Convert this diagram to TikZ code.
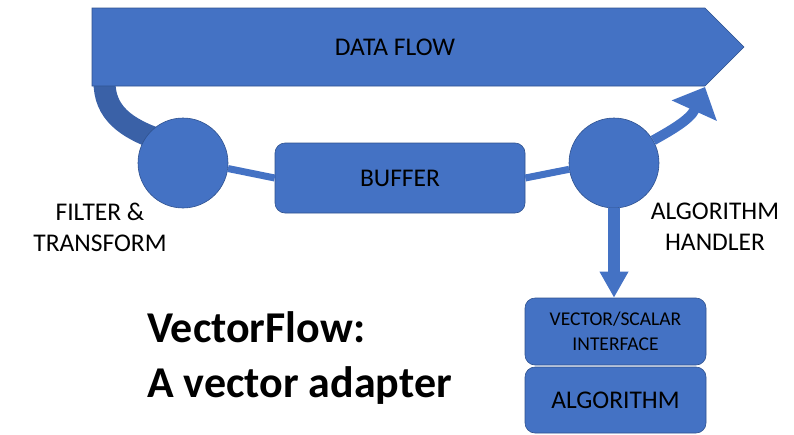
\documentclass[tikz,border=0pt]{standalone}
\usepackage{fontspec}
\setmainfont{Carlito}
\usepackage{tikz}
\usetikzlibrary{arrows.meta}
\definecolor{fill}{HTML}{4472C4}
\definecolor{edge}{HTML}{2F528F}
\colorlet{band}{fill!85!black}
\tikzset{blob/.style={circle,fill=fill,draw=edge,line width=0.6pt,minimum size=90pt,inner sep=0pt}}
\tikzset{box/.style={rectangle,rounded corners=10pt,fill=fill,draw=edge,line width=0.6pt,align=center,
    font=\fontsize{25.5pt}{31pt}\selectfont}}
\tikzset{lbl/.style={align=center,inner sep=0pt,font=\fontsize{25.5pt}{31pt}\selectfont}}
\tikzset{link/.style={draw=fill,line width=6pt}}

\begin{document}
\begin{tikzpicture}[x=1pt,y=-1pt]
                \useasboundingbox (0,0) rectangle (794,434);

                % curved band from the flow down into the filter
                \coordinate (S) at (104.5,82);
                \draw[draw=band,line width=22pt] (S) .. controls (104.5,112) and (125,128) .. (160,140);

                % data flow
                \fill[fill=fill,draw=edge,line width=0.6pt] (92,8) -- (705,8) -- (744,47) -- (705,86) -- (92,86) -- cycle;
                \node[lbl] (D) at (395,47) {DATA FLOW};

                \node[blob] (F) at (183,163) {};
                \node[blob] (H) at (614,163) {};
                \node[box,minimum width=250pt,minimum height=70pt] (B) at (400,178) {BUFFER};
                \node[box,minimum width=181pt,minimum height=67pt,
                    font=\fontsize{19.5pt}{25pt}\selectfont] (I) at (615.5,331.5) {VECTOR/SCALAR\\INTERFACE};
                \node[box,minimum width=181pt,minimum height=66pt] (G) at (615.5,400) {ALGORITHM};

                \coordinate (T) at (705,87);
                \draw[link,line width=7pt] (F.-7) -- (B.west);
                \draw[link,line width=7pt] (B.east) -- (H.188);
                \draw[link,line width=10pt,-{Triangle[length=26pt,width=48pt]}] (H.30) .. controls (668,132) and (690,120) .. (T);
                \draw[link,line width=12pt,-{Triangle[length=26pt,width=27pt]}] (H.south) -- (H.south |- I.north);

                \node[lbl] (FL) at (100,227) {FILTER \&\\TRANSFORM};
                \node[lbl] (HL) at (715,227) {ALGORITHM\\HANDLER};
                \node[lbl,align=left,anchor=west,font=\fontsize{44pt}{55pt}\selectfont\bfseries] (V) at (147,358) {VectorFlow:\\A vector adapter};
            \end{tikzpicture}
\end{document}
